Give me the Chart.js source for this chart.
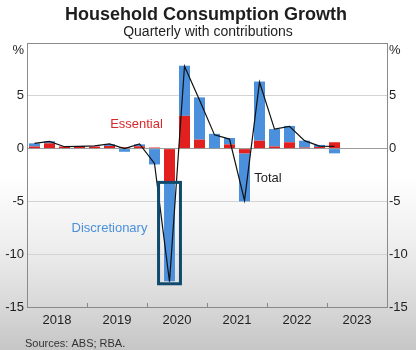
<!DOCTYPE html>
<html lang="en">
<head>
    <meta charset="UTF-8">
    <title>Household Consumption Growth</title>
    <script src="https://cdn.jsdelivr.net/npm/chart.js"></script>
    <style>
        html, body {
            margin: 0;
            padding: 0;
        }
        body {
            width: 416px;
            height: 350px;
            overflow: hidden;
            background: linear-gradient(to bottom, #ffffff 0%, #ffffff 50%, #eeeeee 70%, #dadada 86%, #c6c6c6 100%);
            font-family: Arial, "Liberation Sans", sans-serif;
        }
        #wrap {
            position: relative;
            width: 416px;
            height: 350px;
        }
    </style>
</head>
<body>
    <div id="wrap"><canvas id="chart"></canvas></div>

    <script>
        // quarters 2018 Q1 .. 2023 Q4 (data runs to 2023 Q1)
        const quarters = [
            '2018 Q1', '2018 Q2', '2018 Q3', '2018 Q4',
            '2019 Q1', '2019 Q2', '2019 Q3', '2019 Q4',
            '2020 Q1', '2020 Q2', '2020 Q3', '2020 Q4',
            '2021 Q1', '2021 Q2', '2021 Q3', '2021 Q4',
            '2022 Q1', '2022 Q2', '2022 Q3', '2022 Q4',
            '2023 Q1', '2023 Q2', '2023 Q3', '2023 Q4'
        ];
        const years = ['2018', '2019', '2020', '2021', '2022', '2023'];
        const yTicks = [-15, -10, -5, 0, 5, 10];

        // contributions, percentage points
        const essential = [0.2, 0.5, 0.2, 0.25, 0.2, 0.25, 0.13, 0.22, 0.1, -3.2, 3.1, 0.85, 0.0, 0.4, -0.45, 0.75, 0.2, 0.6, 0.1, 0.15, 0.6];
        const discretionary = [0.3, 0.2, 0.0, 0.0, 0.0, 0.17, -0.3, 0.18, -1.5, -9.35, 4.75, 4.0, 1.4, 0.6, -4.55, 5.6, 1.65, 1.55, 0.65, 0.2, -0.45];
        const total = [0.5, 0.68, 0.18, 0.22, 0.25, 0.45, 0.0, 0.45, -1.4, -12.6, 7.8, 4.6, 1.3, 0.9, -4.9, 6.3, 1.85, 2.1, 0.75, 0.23, 0.22];

        const RED = '#e1201f';
        const BLUE = '#4a90dc';
        const AXIS = '#8a8a8a';
        const TEXT = '#1e1e1e';

        // titles, labels, box and year ticks
        const extras = {
            id: 'extras',
            afterDatasetsDraw(chart) {
                const { ctx, scales: { x, y } } = chart;
                const step = x.getPixelForValue(1) - x.getPixelForValue(0);

                // box round the big discretionary fall
                const i = discretionary.indexOf(Math.min(...discretionary));
                const cx = x.getPixelForValue(i);
                const half = step * 0.73;
                const top = y.getPixelForValue(essential[i]);
                const bot = y.getPixelForValue(essential[i] + discretionary[i] - 0.25);
                ctx.save();
                ctx.strokeStyle = '#0f4a6c';
                ctx.lineWidth = 3;
                ctx.strokeRect(cx - half, top, half * 2, bot - top);

                ctx.font = '13px Arial';
                ctx.textBaseline = 'middle';
                ctx.textAlign = 'center';
                ctx.fillStyle = '#d9282a';
                ctx.fillText('Essential', x.getPixelForValue(6.8), y.getPixelForValue(2.25));
                ctx.fillStyle = '#4a90dc';
                ctx.fillText('Discretionary', x.getPixelForValue(5.0), y.getPixelForValue(-7.6));
                ctx.fillStyle = TEXT;
                ctx.textAlign = 'left';
                ctx.fillText('Total', x.getPixelForValue(14.65), y.getPixelForValue(-2.8));
                ctx.restore();
            },
            afterDraw(chart) {
                const { ctx, chartArea: a, scales: { x } } = chart;
                ctx.save();
                // year tick marks, pointing up into the plot
                ctx.strokeStyle = AXIS;
                ctx.lineWidth = 1;
                for (let k = 4; k < quarters.length; k += 4) {
                    const px = Math.round((x.getPixelForValue(k - 1) + x.getPixelForValue(k)) / 2) + 0.5;
                    ctx.beginPath();
                    ctx.moveTo(px, a.bottom);
                    ctx.lineTo(px, a.bottom - 4);
                    ctx.stroke();
                }

                ctx.fillStyle = TEXT;
                ctx.textAlign = 'center';
                ctx.textBaseline = 'alphabetic';
                ctx.font = 'bold 18px Arial';
                ctx.fillText('Household Consumption Growth', 206, 20);
                ctx.font = '14px Arial';
                ctx.fillText('Quarterly with contributions', 208, 36);

                ctx.font = '13px Arial';
                ctx.textBaseline = 'middle';
                ctx.textAlign = 'right';
                ctx.fillText('%', a.left - 3, a.top + 7);
                ctx.textAlign = 'left';
                ctx.fillText('%', a.right + 2, a.top + 7);

                ctx.font = '11px Arial';
                ctx.textBaseline = 'alphabetic';
                ctx.fillStyle = '#333333';
                ctx.fillText('Sources: ABS; RBA.', 25, 347);
                ctx.restore();
            }
        };

        const tickLabel = v => (v === 10 ? '' : String(v));
        const setTicks = s => { s.ticks = yTicks.map(v => ({ value: v })); };

        new Chart(document.getElementById('chart'), {
            data: {
                labels: quarters,
                datasets: [
                    {
                        type: 'line',
                        label: 'Total',
                        data: total,
                        stack: 'total',
                        order: 0,
                        borderColor: '#111111',
                        borderWidth: 1.2,
                        pointRadius: 0,
                        tension: 0,
                        fill: false
                    },
                    {
                        type: 'bar',
                        label: 'Essential',
                        data: essential,
                        stack: 'c',
                        order: 1,
                        backgroundColor: RED,
                        categoryPercentage: 1,
                        barPercentage: 0.73
                    },
                    {
                        type: 'bar',
                        label: 'Discretionary',
                        data: discretionary,
                        stack: 'c',
                        order: 2,
                        backgroundColor: BLUE,
                        categoryPercentage: 1,
                        barPercentage: 0.73
                    }
                ]
            },
            options: {
                responsive: true,
                maintainAspectRatio: false,
                animation: false,
                layout: { padding: { top: 43, left: 0, right: 0, bottom: 0 } },
                plugins: {
                    legend: { display: false },
                    tooltip: { enabled: false }
                },
                scales: {
                    x: {
                        type: 'category',
                        stacked: true,
                        offset: true,
                        grid: { display: false, drawTicks: false },
                        border: { display: true, color: AXIS, width: 1 },
                        ticks: {
                            autoSkip: false,
                            maxRotation: 0,
                            minRotation: 0,
                            padding: 6,
                            labelOffset: 7.5,
                            color: TEXT,
                            font: { family: 'Arial', size: 13 },
                            callback: (v, i) => (i % 4 === 1 ? years[Math.floor(i / 4)] : '')
                        },
                        afterFit: s => { s.height = 43; s.paddingLeft = 0; s.paddingRight = 0; }
                    },
                    y: {
                        position: 'left',
                        stacked: true,
                        min: -15,
                        max: 10,
                        afterBuildTicks: setTicks,
                        grid: {
                            drawTicks: false,
                            lineWidth: 1,
                            color: c => {
                                const v = c.tick.value;
                                if (v === 10) return AXIS;
                                if (v === 0) return '#9c9c9c';
                                if (v === -15) return 'rgba(0,0,0,0)';
                                return '#d4d4d4';
                            }
                        },
                        border: { display: true, color: AXIS, width: 1 },
                        ticks: {
                            padding: 3,
                            color: TEXT,
                            font: { family: 'Arial', size: 13 },
                            callback: tickLabel
                        },
                        afterFit: s => { s.width = 27; s.paddingTop = 0; s.paddingBottom = 0; }
                    },
                    y2: {
                        position: 'right',
                        min: -15,
                        max: 10,
                        afterBuildTicks: setTicks,
                        grid: { display: false, drawTicks: false },
                        border: { display: true, color: AXIS, width: 1 },
                        ticks: {
                            padding: 2,
                            color: TEXT,
                            font: { family: 'Arial', size: 13 },
                            callback: tickLabel
                        },
                        afterFit: s => { s.width = 29; s.paddingTop = 0; s.paddingBottom = 0; }
                    }
                }
            },
            plugins: [extras]
        });
    </script>
</body>
</html>
